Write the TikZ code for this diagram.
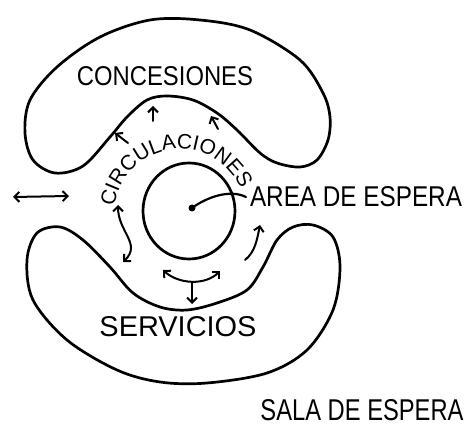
\documentclass[tikz,border=0pt]{standalone}
\usepackage{fontspec}
\setmainfont{Liberation Sans}
\usepackage{graphicx}
\usetikzlibrary{decorations.text,arrows.meta,shapes.geometric}
\newcommand{\handtext}[3]{\resizebox{#1}{#2}{#3}}
\begin{document}
\begin{tikzpicture}[x=1pt,y=1pt,line cap=round,line join=round,
  region/.style={draw,line width=2.7pt},
  flow/.style={line width=2pt,-{Straight Barb[length=5pt,width=10pt]}},
  flowboth/.style={line width=2pt,{Straight Barb[length=5pt,width=10pt]}-{Straight Barb[length=5pt,width=10pt]}},
  word/.style={inner sep=0pt,anchor=center}]
\useasboundingbox (0,-427) rectangle (465,0);
% CONCESIONES region
\draw[region] plot[smooth cycle,tension=0.55] coordinates {
 (55,-173) (83,-166) (110,-137) (127,-117) (147,-100) (167,-96) (193,-100)
 (217,-113) (237,-130) (260,-153) (277,-163) (300,-167) (317,-160)
 (328,-140) (330,-117) (323,-93) (300,-60) (250,-30) (200,-20) (150,-20)
 (100,-37) (57,-67) (30,-100) (25,-133) (33,-160)};
% SERVICIOS region
\draw[region] plot[smooth cycle,tension=0.55] coordinates {
 (37,-233) (27,-260) (33,-300) (67,-340) (117,-370) (160,-382) (207,-383)
 (267,-373) (307,-350) (333,-310) (340,-267) (333,-237) (313,-225)
 (293,-227) (277,-240) (263,-267) (247,-290) (217,-303) (187,-310)
 (160,-307) (133,-293) (110,-267) (83,-240) (60,-227)};
% waiting area
\node[draw,ellipse,line width=2.7pt,minimum width=92pt,minimum height=96pt,inner sep=0pt] (area) at (189,-211) {};
\node[circle,fill,inner sep=0pt,minimum size=7pt] (dot) at (192,-208) {};
\coordinate (lineend) at (246,-197);
\draw[line width=2.2pt] (dot.center) .. controls (207,-197) and (230,-189) .. (lineend);
% labels
\node[word] (conc) at (165,-76) {\handtext{176pt}{19pt}{CONCESIONES}};
\node[word] (areatxt) at (356,-197) {\handtext{212pt}{20pt}{AREA DE ESPERA}};
\node[word] (serv) at (178,-327) {\handtext{157pt}{20pt}{SERVICIOS}};
\node[word] (sala) at (362,-410) {\handtext{203pt}{21pt}{SALA DE ESPERA}};
% curved label
\path[decorate,decoration={text along path,text align=center,
  text={|\fontsize{21}{21}\selectfont|CIRCULACIONES}}]
  (180,-215) ++(172:66) arc (172:24:66);
% arrows
\coordinate (a1s) at (153,-121); \coordinate (a1e) at (153,-106);
\coordinate (a2s) at (218,-129); \coordinate (a2e) at (211,-116);
\coordinate (a3s) at (128,-143); \coordinate (a3e) at (115,-133);
\draw[flow] (a1s) -- (a1e);
\draw[flow] (a2s) -- (a2e);
\draw[flow] (a3s) -- (a3e);
\coordinate (b1s) at (118,-205); \coordinate (b1e) at (123,-262);
\draw[flowboth] (b1s) .. controls (118,-232) and (142,-244) .. (b1e);
\coordinate (b2s) at (245,-260); \coordinate (b2e) at (260,-225);
\draw[flow] (b2s) .. controls (255,-252) and (257,-240) .. (b2e);
\coordinate (c1s) at (163,-270); \coordinate (c1e) at (220,-271);
\draw[flowboth] (c1s) .. controls (178,-284) and (205,-286) .. (c1e);
\coordinate (c2s) at (192,-282); \coordinate (c2e) at (192,-304);
\draw[flow] (c2s) -- (c2e);
\coordinate (d1s) at (13,-197); \coordinate (d1e) at (69,-196);
\draw[flowboth] (d1s) -- (d1e);
\end{tikzpicture}
\end{document}
